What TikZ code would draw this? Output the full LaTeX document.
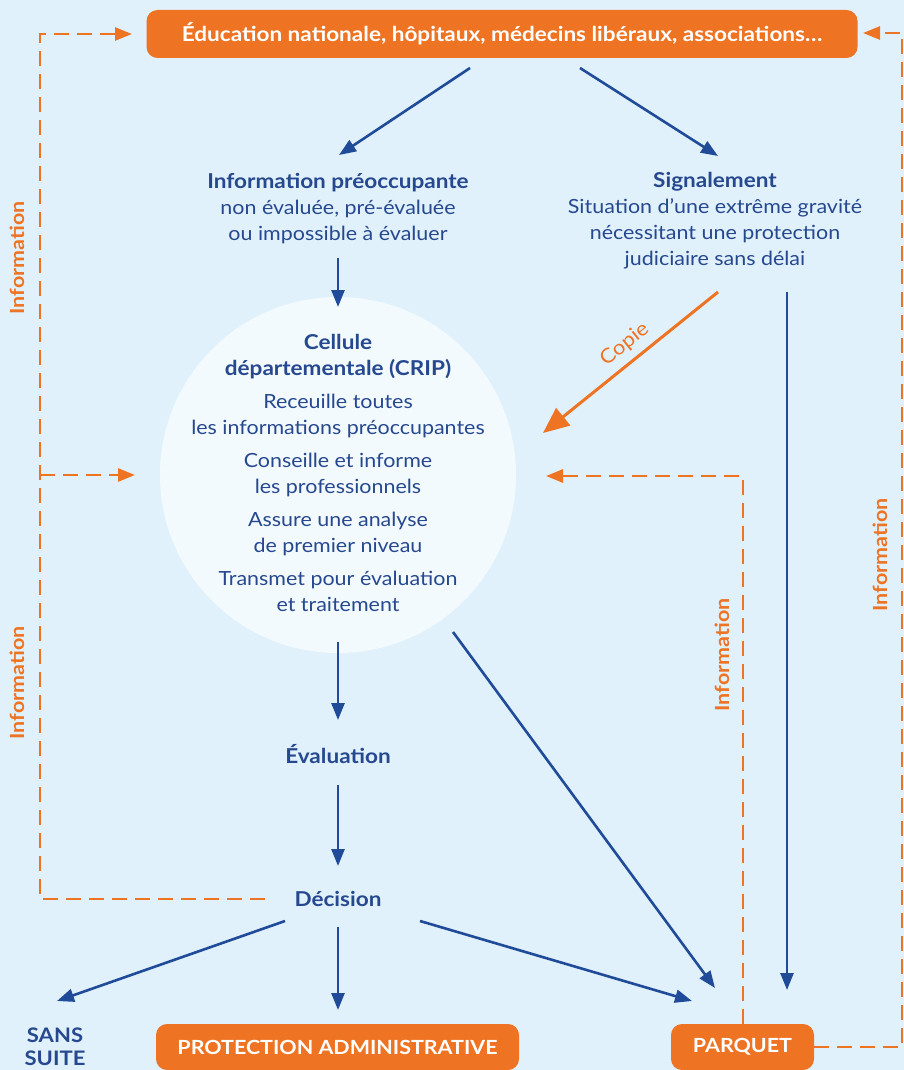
\documentclass[tikz,border=0pt]{standalone}
\usepackage{fontspec}
\setmainfont[FakeStretch=1.1]{Lato}
\usetikzlibrary{arrows.meta}
\definecolor{bg}{HTML}{E0F1FB}
\definecolor{org}{HTML}{EE7322}
\definecolor{nav}{HTML}{26488F}
\definecolor{arr}{HTML}{1F4B98}
\definecolor{circ}{HTML}{F3FAFE}
\begin{document}
\begin{tikzpicture}[x=1pt,y=-1pt,
  barrow/.style={draw=arr, line width=2.6pt, -{Triangle[length=17pt,width=13pt]}},
  darrow/.style={draw=org, line width=2.6pt, dash pattern=on 15pt off 8pt, -{Triangle[length=17pt,width=13pt]}},
  obox/.style={fill=org, rounded corners=11pt, text=white, inner sep=0pt, minimum height=46pt},
  bigtxt/.style={font=\fontsize{20.5}{24}\selectfont\bfseries},
  boxtxt/.style={font=\fontsize{19.5}{24}\selectfont\bfseries},
  txt/.style={text=nav, align=center, font=\fontsize{19.5}{26}\selectfont},
  ttl/.style={text=nav, font=\fontsize{20.5}{24}\selectfont\bfseries},
  infol/.style={text=org, font=\fontsize{19.5}{22}\selectfont\bfseries, rotate=90}
]
\clip (0,0) rectangle (904,1070);
\fill[bg] (0,0) rectangle (904,1070);

% nodes
\node[obox, bigtxt, minimum width=711pt, minimum height=48pt] (top) at (502,34) {Éducation nationale, hôpitaux, médecins libéraux, associations…};
\node[txt, anchor=base] (ip) at (338,240) {{\fontsize{20.5}{26}\selectfont\bfseries Information préoccupante}\\non évaluée, pré-évaluée\\ou impossible à évaluer};
\node[txt, anchor=base] (sig) at (715,265) {{\fontsize{20.5}{26}\selectfont\bfseries Signalement}\\Situation d’une extrême gravité\\nécessitant une protection\\judiciaire sans délai};
\node[circle, fill=circ, minimum size=356pt, inner sep=0pt] (crip) at (338,475) {};
\node[txt, anchor=base, font=\fontsize{19.5}{25.5}\selectfont] (criptxt) at (338,611) {{\fontsize{20.5}{25.5}\selectfont\bfseries Cellule}\\{\fontsize{20.5}{25.5}\selectfont\bfseries départementale (CRIP)}\\[8pt]Receuille toutes\\les informations préoccupantes\\[8pt]Conseille et informe\\les professionnels\\[8pt]Assure une analyse\\de premier niveau\\[8pt]Transmet pour évaluation\\et traitement};
\node[ttl, anchor=base] (eval) at (338,763) {Évaluation};
\node[ttl, anchor=base] (dec) at (338,906) {Décision};
\node[text=nav, align=center, font=\fontsize{20}{23}\selectfont\bfseries, anchor=base] (sans) at (55,1065) {SANS\\SUITE};
\node[obox, boxtxt, minimum width=363pt] (prot) at (337.5,1047) {PROTECTION ADMINISTRATIVE};
\node[obox, boxtxt, minimum width=143pt] (parq) at (742.5,1047) {PARQUET};

% connector end points
\coordinate (t1) at (470,68);   \coordinate (ipin) at (339,155);
\coordinate (t2) at (580,68);   \coordinate (sigin) at (718,156);
\coordinate (ipout) at (338,258); \coordinate (cripin) at (338,307);
\coordinate (sigc) at (718,292); \coordinate (copin) at (543,433);
\coordinate (sigp) at (787,292); \coordinate (parqin1) at (787,990);
\coordinate (cripd) at (453,632); \coordinate (parqin2) at (715,988);
\coordinate (cripout) at (338,642); \coordinate (evalin) at (338,720);
\coordinate (evalout) at (338,785); \coordinate (decin) at (338,866);
\coordinate (d1) at (285,921); \coordinate (sansin) at (57,1001);
\coordinate (d2) at (338,927); \coordinate (protin) at (338,1010);
\coordinate (d3) at (420,921); \coordinate (parqin3) at (692,1001);
\coordinate (decl) at (265,899);
\coordinate (lbranch) at (40,475); \coordinate (cripl) at (135,475);
\coordinate (topl) at (132,34); \coordinate (topr) at (863,33);
\coordinate (parqtop) at (743,1024); \coordinate (cripr) at (546,476);

% blue arrows
\draw[barrow] (t1) -- (ipin);
\draw[barrow] (t2) -- (sigin);
\draw[barrow] (ipout) -- (cripin);
\draw[barrow] (sigp) -- (parqin1);
\draw[barrow] (cripd) -- (parqin2);
\draw[barrow] (cripout) -- (evalin);
\draw[barrow] (evalout) -- (decin);
\draw[barrow] (d1) -- (sansin);
\draw[barrow] (d2) -- (protin);
\draw[barrow] (d3) -- (parqin3);

% copie
\draw[draw=org, line width=3pt, -{Triangle[length=26pt,width=22pt]}] (sigc) -- node[pos=0.47, above, sloped, text=org, font=\fontsize{20}{22}\selectfont, inner sep=7pt] (copie) {Copie} (copin);

% dashed information arrows
\draw[darrow] (decl) -| (40,34) -- (topl);
\draw[darrow] (lbranch) -- (cripl);
\draw[darrow] (parq.east) -| (902,33) -- (topr);
\draw[darrow] (parqtop) |- (cripr);

% labels
\node[infol] (inf1) at (17,258) {Information};
\node[infol] (inf2) at (17,683) {Information};
\node[infol] (inf3) at (722,655) {Information};
\node[infol] (inf4) at (880,555) {Information};
\end{tikzpicture}
\end{document}
